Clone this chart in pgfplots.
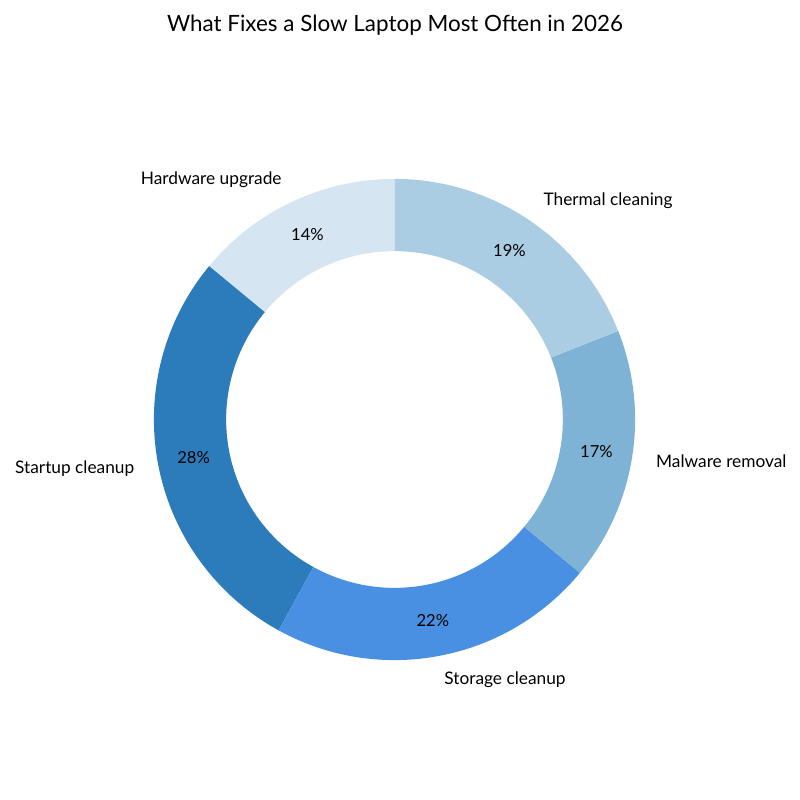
\documentclass[border=0pt]{standalone}
\usepackage{pgfplots}
\pgfplotsset{compat=1.18}
\usepackage{pgfplotstable}
\usetikzlibrary{calc}
\usepackage{fontspec}
\setmainfont{Lato}
\definecolor{c0}{HTML}{D5E5F2}
\definecolor{c1}{HTML}{2C7BBA}
\definecolor{c2}{HTML}{4A90E2}
\definecolor{c3}{HTML}{7FB3D5}
\definecolor{c4}{HTML}{ABCDE3}
\pgfplotstableread[col sep=comma]{
label,value
Hardware upgrade,14
Startup cleanup,28
Storage cleanup,22
Malware removal,17
Thermal cleaning,19
}\piedata
\begin{document}
\begin{tikzpicture}
\begin{axis}[
  scale only axis, width=8in, height=8in,
  xmin=0, xmax=800, ymin=0, ymax=800,
  hide axis, clip=false,
]
\path (axis cs:0,0) rectangle (axis cs:800,800);
\node[font=\fontsize{16.2}{19}\selectfont] at (axis cs:395,775) {What Fixes a Slow Laptop Most Often in 2026};
\def\startang{90}
\pgfplotsforeachungrouped \i in {0,...,4}{%
  \pgfplotstablegetelem{\i}{value}\of\piedata \let\val\pgfplotsretval
  \pgfplotstablegetelem{\i}{label}\of\piedata \let\lab\pgfplotsretval
  \pgfmathsetmacro\endang{\startang+3.6*\val}%
  \pgfmathsetmacro\midang{(\startang+\endang)/2}%
  \pgfmathsetmacro\cx{cos(\midang)}%
  \ifdim\cx pt<0pt \def\anc{east}\else\def\anc{west}\fi
  \edef\cmd{%
    \noexpand\fill[c\i] (axis cs:394.5,380.5) ++(\startang:173.88pt)
      arc[start angle=\startang, end angle=\endang, radius=173.88pt]
      -- ++(\endang:-52.2pt)
      arc[start angle=\endang, end angle=\startang, radius=121.68pt] -- cycle;
    \noexpand\node[anchor=\anc, inner sep=0pt, font=\noexpand\fontsize{12.5}{15}\noexpand\selectfont]
      at ($(axis cs:394.5,380.5)+(\midang:191.27pt)$) {\lab};
    \noexpand\node[inner sep=0pt, font=\noexpand\fontsize{12}{14}\noexpand\selectfont]
      at ($(axis cs:394.5,380.5)+(\midang:147.8pt)$) {\val\noexpand\%};
  }%
  \cmd
  \let\startang\endang
}
\end{axis}
\end{tikzpicture}
\end{document}
